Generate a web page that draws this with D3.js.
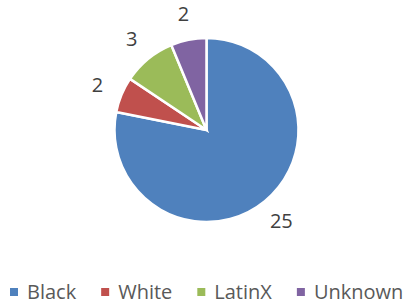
<!DOCTYPE html>
<head>
  <meta charset="utf-8">
  <script src="https://cdnjs.cloudflare.com/ajax/libs/d3/7.8.5/d3.min.js"></script>
  <style>
    body { margin:0; background:#fff; }
    svg { display:block; font-family: "Open Sans", "Noto Sans", sans-serif; }
  </style>
</head>
<body>
  <script>
    var categories = ["Black", "White", "LatinX", "Unknown"];
    var values = [25, 2, 3, 2];
    var colors = ["#4F81BD", "#C0504D", "#9BBB59", "#8064A2"];

    var width = 417, height = 307;
    var cx = 206.5, cy = 130, radius = 92;

    var svg = d3.select("body").append("svg")
      .attr("width", width)
      .attr("height", height);

    var data = categories.map(function(c, i){ return {name: c, value: values[i], color: colors[i]}; });

    var pie = d3.pie().sort(null).value(function(d){ return d.value; });
    var arc = d3.arc().innerRadius(0).outerRadius(radius);
    var labelArc = d3.arc().innerRadius(118).outerRadius(118);

    var g = svg.append("g").attr("transform", "translate(" + cx + "," + cy + ")");

    g.selectAll("path").data(pie(data)).enter().append("path")
      .attr("d", arc)
      .attr("fill", function(d){ return d.data.color; })
      .attr("stroke", "#fff")
      .attr("stroke-width", 2.5)
      .attr("stroke-linejoin", "miter");

    g.selectAll("text").data(pie(data)).enter().append("text")
      .attr("transform", function(d){ return "translate(" + labelArc.centroid(d) + ")"; })
      .attr("text-anchor", "middle")
      .attr("dy", "0.36em")
      .attr("fill", "#404040")
      .style("font-size", "20px")
      .text(function(d){ return d.data.value; });

    // legend
    var legend = svg.append("g");
    var x = 10;
    data.forEach(function(d){
      legend.append("rect")
        .attr("x", x).attr("y", 288)
        .attr("width", 8).attr("height", 8)
        .attr("fill", d.color);
      var t = legend.append("text")
        .attr("x", x + 17).attr("y", 299)
        .attr("fill", "#595959")
        .style("font-size", "20px")
        .text(d.name);
      x += 17 + t.node().getComputedTextLength() + 25;
    });
  </script>
</body>
